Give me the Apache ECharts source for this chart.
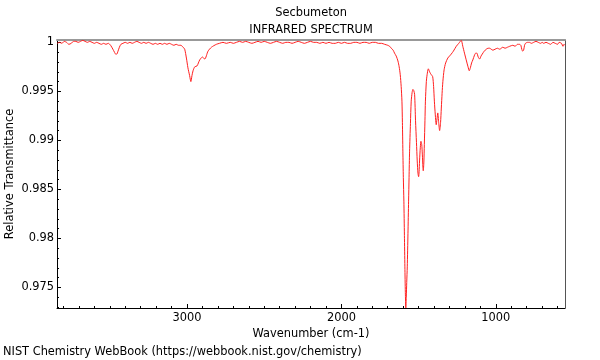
<!DOCTYPE html>
<html><head><meta charset="utf-8">
<script src="https://cdn.jsdelivr.net/npm/echarts@6/dist/echarts.min.js"></script>
<style>html,body{margin:0;padding:0;background:#fff}#c{width:600px;height:360px}</style>
</head><body><div id="c"></div>
<script>
const chartTitle = "Secbumeton";
const chartSubtitle = "INFRARED SPECTRUM";
const xAxisName = "Wavenumber (cm-1)";
const yAxisName = "Relative Transmittance";
const footer = "NIST Chemistry WebBook (https://webbook.nist.gov/chemistry)";
const xMajorTicks = [1000, 2000, 3000];
const yMajorTicks = [0.975, 0.98, 0.985, 0.99, 0.995, 1];
const xRange = [552, 3842];
const yRange = [0.9729, 1.00024];

const wavenumbers = [3841,3825,3810,3795,3780,3765,3750,3735,3720,3705,3690,3675,3660,3645,3630,3615,3600,3585,3570,3555,3540,3525,3510,3495,3480,3470,3462,3455,3447,3438,3428,3415,3400,3385,3370,3355,3340,3325,3310,3295,3280,3265,3250,3235,3220,3205,3190,3175,3160,3145,3130,3115,3100,3085,3070,3055,3040,3025,3015,3004,2994,2983,2975,2968,2961,2950,2935,2918,2900,2885,2864,2842,2810,2790,2767,2745,2720,2700,2680,2660,2640,2620,2600,2580,2560,2540,2520,2500,2480,2460,2440,2420,2400,2380,2360,2340,2320,2300,2280,2260,2240,2220,2200,2180,2160,2140,2120,2100,2080,2060,2040,2020,2000,1980,1960,1940,1920,1900,1880,1860,1840,1820,1800,1780,1760,1740,1720,1700,1688,1677,1665,1656,1645,1634,1626,1619,1613,1608,1605,1602,1599,1595.5,1592,1589,1586,1583,1580,1577,1573.5,1569,1565,1562,1558.5,1553,1548,1542,1537,1532,1526,1520,1514,1509,1504,1500,1497,1494,1489,1485,1480,1476,1472,1470,1466,1463,1459,1456,1450,1445,1437,1431,1426,1418,1409,1403,1398,1392,1386,1381,1376,1370,1364,1358,1353,1348,1343,1335,1325,1311,1300,1289,1275,1256,1240,1224,1214,1203,1190,1180,1172,1165,1157,1149,1138,1130,1123,1114,1105,1096,1088,1075,1062,1050,1040,1030,1019,1005,990,975,955,940,925,910,890,875,860,847,838,832,826,820,814,808,795,782,770,755,740,725,710,700,690,675,660,645,630,615,600,590,575,565,558,553];
const transmittance = [0.9999,1.0000,0.9999,1.0001,1.0000,0.9998,0.9999,1.0001,1.0001,1.0000,1.0001,1.0002,1.0001,1.0000,1.0001,1.0000,0.9999,1.0000,0.9999,0.9998,0.9999,0.9998,0.9999,0.9997,0.9993,0.9990,0.9988,0.9988,0.9991,0.9995,0.9998,0.9999,1.0000,0.9999,1.0000,0.9999,1.0000,1.0001,1.0000,0.9999,1.0000,0.9999,1.0000,0.9999,0.9998,0.9999,0.9998,0.9999,0.9998,0.9999,0.9998,0.9999,0.9998,0.9997,0.9998,0.9997,0.9997,0.9995,0.9993,0.9984,0.9974,0.9966,0.9960,0.9966,0.9971,0.9975,0.9976,0.9982,0.9985,0.9983,0.9991,0.9995,0.9998,0.9999,1.0000,0.9999,1.0000,0.9999,1.0000,1.0001,1.0000,1.0001,1.0000,0.9999,1.0000,1.0001,1.0000,1.0001,1.0000,0.9999,1.0000,1.0001,1.0000,0.9999,1.0000,1.0000,0.9999,1.0000,1.0001,1.0000,0.9999,1.0000,1.0001,1.0000,1.0000,0.9999,1.0000,0.9999,1.0000,0.9999,0.9999,1.0000,0.9999,1.0000,0.9999,0.9999,1.0000,1.0000,0.9999,1.0000,1.0000,0.9999,1.0000,1.0000,0.9999,0.9999,0.9998,0.9997,0.9996,0.9994,0.9992,0.9989,0.9986,0.9981,0.9975,0.9967,0.9955,0.9940,0.9918,0.9889,0.9862,0.9838,0.9803,0.9771,0.9745,0.9729,0.9740,0.9755,0.9771,0.9805,0.9838,0.9862,0.9889,0.9917,0.9940,0.9949,0.9952,0.9951,0.9947,0.9920,0.9898,0.9879,0.9866,0.9863,0.9868,0.9879,0.9893,0.9899,0.9896,0.9886,0.9872,0.9869,0.9878,0.9896,0.9920,0.9940,0.9960,0.9967,0.9973,0.9971,0.9969,0.9967,0.9965,0.9955,0.9940,0.9926,0.9916,0.9922,0.9928,0.9918,0.9910,0.9918,0.9933,0.9948,0.9960,0.9972,0.9979,0.9984,0.9986,0.9988,0.9991,0.9996,0.9999,1.0002,0.9996,0.9989,0.9981,0.9975,0.9971,0.9974,0.9979,0.9982,0.9987,0.9989,0.9989,0.9985,0.9983,0.9986,0.9988,0.9991,0.9993,0.9994,0.9994,0.9993,0.9992,0.9993,0.9994,0.9993,0.9995,0.9994,0.9995,0.9996,0.9997,0.9996,0.9998,0.9998,0.9997,0.9993,0.9991,0.9992,0.9997,0.9999,1.0000,1.0000,0.9999,1.0000,1.0001,1.0000,0.9999,1.0000,0.9999,1.0000,0.9999,0.9998,1.0000,0.9999,0.9998,1.0000,0.9999,0.9996,0.9998,0.9997];

const xMinorTicks = [];
for (let w = 600; w <= 3800; w += 100) xMinorTicks.push(w);
const yMinorTicks = [];
for (let k = 973; k <= 1000; k++) yMinorTicks.push(k / 1000);

const points = wavenumbers.map((w, i) => [w, transmittance[i]]);
const font = "DejaVu Sans";
const fs = 11.4;
const chart = echarts.init(document.getElementById('c'), null, {renderer: 'canvas'});
const fmt = v => String(+(+v).toFixed(3));

chart.setOption({
  animation: false,
  backgroundColor: '#fff',
  graphic: [
    {type: 'text', x: 311, y: 13, style: {text: chartTitle, font: fs + 'px "DejaVu Sans"', fill: '#000', align: 'center', verticalAlign: 'middle'}},
    {type: 'text', x: 311, y: 30, style: {text: chartSubtitle, font: fs + 'px "DejaVu Sans"', fill: '#000', align: 'center', verticalAlign: 'middle'}},
    {type: 'text', x: 3, y: 352, style: {text: footer, font: fs + 'px "DejaVu Sans"', fill: '#000', align: 'left', verticalAlign: 'middle'}},
    {type: 'text', x: 10, y: 174, rotation: Math.PI / 2, style: {text: yAxisName, font: fs + 'px "DejaVu Sans"', fill: '#000', align: 'center', verticalAlign: 'middle'}}
  ],
  grid: {left: 57, right: 35, top: 40, bottom: 52, containLabel: false, outerBoundsMode: 'none'},
  xAxis: [
    {type: 'value', inverse: true, min: xRange[0], max: xRange[1], position: 'bottom',
     name: xAxisName, nameLocation: 'middle', nameGap: 19,
     nameTextStyle: {fontFamily: font, fontSize: fs, color: '#000'},
     axisLine: {show: true, lineStyle: {color: '#000', width: 1}},
     axisTick: {show: true, inside: true, length: 4, customValues: xMajorTicks, lineStyle: {color: '#000'}},
     axisLabel: {show: true, customValues: xMajorTicks, margin: 5, formatter: v => String(v), fontFamily: font, fontSize: fs, color: '#000'},
     splitLine: {show: false}},
    {type: 'value', inverse: true, min: xRange[0], max: xRange[1], position: 'bottom',
     axisLine: {show: false},
     axisTick: {show: true, inside: true, length: 2, customValues: xMinorTicks, lineStyle: {color: '#000'}},
     axisLabel: {show: false}, splitLine: {show: false}},
    {type: 'value', inverse: true, min: xRange[0], max: xRange[1], position: 'top',
     axisLine: {show: true, lineStyle: {color: '#999', width: 2}},
     axisTick: {show: false}, axisLabel: {show: false}, splitLine: {show: false}}
  ],
  yAxis: [
    {type: 'value', min: yRange[0], max: yRange[1], position: 'left',
     axisLine: {show: true, lineStyle: {color: '#000', width: 1}},
     axisTick: {show: true, inside: true, length: 4, customValues: yMajorTicks, lineStyle: {color: '#000'}},
     axisLabel: {show: true, customValues: yMajorTicks, margin: 3, formatter: fmt, fontFamily: font, fontSize: fs, color: '#000'},
     splitLine: {show: false}},
    {type: 'value', min: yRange[0], max: yRange[1], position: 'left',
     axisLine: {show: false},
     axisTick: {show: true, inside: true, length: 2, customValues: yMinorTicks, lineStyle: {color: '#000'}},
     axisLabel: {show: false}, splitLine: {show: false}},
    {type: 'value', min: yRange[0], max: yRange[1], position: 'right',
     axisLine: {show: true, lineStyle: {color: '#555', width: 1}},
     axisTick: {show: false}, axisLabel: {show: false}, splitLine: {show: false}}
  ],
  series: [{
    type: 'line', xAxisIndex: 0, yAxisIndex: 0, data: points,
    showSymbol: false, smooth: 0.25, clip: true,
    lineStyle: {color: '#ff2020', width: 1}
  }]
});
</script></body></html>
